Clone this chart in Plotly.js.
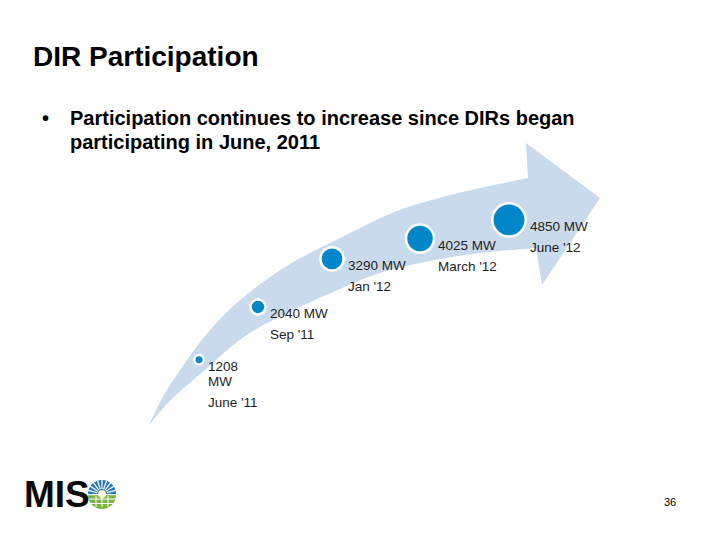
<!DOCTYPE html>
<html>
<head>
<meta charset="utf-8">
<script src="https://cdn.plot.ly/plotly-3.0.1.min.js"></script>
<style>html,body{margin:0;padding:0;background:#fff;}#chart{width:720px;height:540px;}</style>
</head>
<body>
<div id="chart"></div>
<script>
// ---- data ----
const periods = ["June '11", "Sep '11", "Jan '12", "March '12", "June '12"];
const mw = [1208, 2040, 3290, 4025, 4850];
const valueLabels = ["1208<br>MW", "2040 MW", "3290 MW", "4025 MW", "4850 MW"];
const trackPos = [199, 258, 332, 420, 509]; // position along the arrow
const titleText = "DIR Participation";
const bulletLines = ["Participation continues to increase since DIRs began", "participating in June, 2011"];
const pageNumber = "36";

// ---- styles ----
const bubbleBlue = '#0086c9';
const arrowBlue = '#c8daeb';
const textCol = '#1e1e1e';
const FONT = 'Liberation Sans, Arial, sans-serif';

const fillDiam = mw.map(v => v / 152 - 1);
const ringW = 2.5;

const decoAxes = {type: 'scatter', x: [], y: [], xaxis: 'x', yaxis: 'y', showlegend: false, hoverinfo: 'skip'};
const bubbles = {
  type: 'scatter', mode: 'markers',
  x: trackPos, y: mw, xaxis: 'x2', yaxis: 'y2',
  opacity: 1,
  marker: {size: fillDiam.map(d => d + ringW), color: bubbleBlue, opacity: 1, line: {color: '#ffffff', width: ringW}},
  hoverinfo: 'skip', showlegend: false, cliponaxis: false
};

// arrow outline (decoration, pixel frame)
const upper = [[149,425],[165,393],[185,363],[205,336],[228,311],[255,288],[290,264],[330,243],[397,211],[463,192],[528,178]];
const lower = [[536,248],[480,253],[430,261],[380,273],[340,289],[287,313],[250,333],[225,352],[205,370],[185,387],[168,403],[149,425]];
function smooth(pts) {
  let s = '';
  for (let i = 0; i < pts.length - 1; i++) {
    const p0 = pts[Math.max(i - 1, 0)], p1 = pts[i], p2 = pts[i + 1], p3 = pts[Math.min(i + 2, pts.length - 1)];
    const c1 = [p1[0] + (p2[0] - p0[0]) / 6, p1[1] + (p2[1] - p0[1]) / 6];
    const c2 = [p2[0] - (p3[0] - p1[0]) / 6, p2[1] - (p3[1] - p1[1]) / 6];
    s += ` C ${c1[0]},${c1[1]} ${c2[0]},${c2[1]} ${p2[0]},${p2[1]}`;
  }
  return s;
}
const arrowPath = `M ${upper[0][0]},${upper[0][1]}` + smooth(upper) +
  ` L 526,143 L 600,198 L 542,285 L ${lower[0][0]},${lower[0][1]}` + smooth(lower) + ' Z';

const shapes = [
  {type: 'path', xref: 'x', yref: 'y', path: arrowPath, fillcolor: arrowBlue, line: {width: 0}, layer: 'below'}
];

// MISO logo (decoration)
const cx = 102, cy = 494, r = 14, k = 0.552 * r;
shapes.push({type: 'path', xref: 'x', yref: 'y', layer: 'above',
  path: `M ${cx-r},${cy} C ${cx-r},${cy-k} ${cx-k},${cy-r} ${cx},${cy-r} C ${cx+k},${cy-r} ${cx+r},${cy-k} ${cx+r},${cy} Z`,
  fillcolor: '#2a78b5', line: {width: 0}});
shapes.push({type: 'path', xref: 'x', yref: 'y', layer: 'above',
  path: `M ${cx-r},${cy+1} C ${cx-r},${cy+1+k} ${cx-k},${cy+1+r} ${cx},${cy+1+r} C ${cx+k},${cy+1+r} ${cx+r},${cy+1+k} ${cx+r},${cy+1} Z`,
  fillcolor: '#7cb342', line: {width: 0}});
for (let a = 15; a <= 165; a += 18.75) {
  const t = a * Math.PI / 180;
  shapes.push({type: 'line', xref: 'x', yref: 'y', layer: 'above',
    x0: cx + 5 * Math.cos(t), y0: cy - 5 * Math.sin(t), x1: cx + 14 * Math.cos(t), y1: cy - 14 * Math.sin(t),
    line: {color: '#ffffff', width: 1.2}});
}
shapes.push({type: 'circle', xref: 'x', yref: 'y', layer: 'above', x0: cx-4, x1: cx+4, y0: cy-4, y1: cy+4, fillcolor: '#f3f0d0', line: {width: 0}});
shapes.push({type: 'rect', xref: 'x', yref: 'y', layer: 'above', x0: cx-15, x1: cx+15, y0: cy, y1: cy+1.2, fillcolor: '#ffffff', line: {width: 0}});
[499, 503.5].forEach(yy => shapes.push({type: 'line', xref: 'x', yref: 'y', layer: 'above',
  x0: cx-13, x1: cx+13, y0: yy, y1: yy, line: {color: '#ffffff', width: 1}}));
[96, 102, 108].forEach(xx => shapes.push({type: 'line', xref: 'x', yref: 'y', layer: 'above',
  x0: xx, x1: xx, y0: cy+2, y1: cy+13, line: {color: '#ffffff', width: 1}}));

// annotations
const annotations = [];
function pa(px, py, text, size, opts) {
  annotations.push(Object.assign({xref: 'paper', yref: 'paper', x: px / 720, y: 1 - py / 540, text: text,
    showarrow: false, xanchor: 'left', yanchor: 'middle', font: {family: FONT, size: size, color: '#000'}}, opts || {}));
}
pa(31, 56, '<b>' + titleText + '</b>', 28);
pa(40, 118, '<b>•</b>', 20);
pa(68, 118, '<b>' + bulletLines[0] + '</b>', 20);
pa(68, 142, '<b>' + bulletLines[1] + '</b>', 20);
pa(22, 494, '<b>MIS</b>', 37, {font: {family: FONT, size: 37, color: '#0a0a0a'}});
pa(670, 502, pageNumber, 11, {xanchor: 'center'});

mw.forEach((v, i) => {
  const lines = valueLabels[i].split('<br>');
  const xs = (fillDiam[i] + 2 * ringW) / 2 + 1;
  const common = {xref: 'x2', yref: 'y2', x: trackPos[i], y: Math.log10(v), showarrow: false,
    xanchor: 'left', yanchor: 'middle', xshift: xs, font: {family: FONT, size: 13.5, color: textCol}};
  lines.forEach((ln, j) => annotations.push(Object.assign({}, common, {text: ln, yshift: -(7 + 15 * j)})));
  annotations.push(Object.assign({}, common, {text: periods[i], yshift: -(7 + 15 * (lines.length - 1) + 21)}));
});

const layout = {
  width: 720, height: 540,
  margin: {l: 0, r: 0, t: 0, b: 0},
  paper_bgcolor: '#ffffff', plot_bgcolor: 'rgba(0,0,0,0)',
  showlegend: false,
  xaxis: {range: [0, 720], visible: false, fixedrange: true},
  yaxis: {range: [540, 0], visible: false, fixedrange: true},
  xaxis2: {range: [0, 720], overlaying: 'x', visible: false, fixedrange: true},
  yaxis2: {type: 'log', range: [2.3034, 4.6350], overlaying: 'y', visible: false, fixedrange: true},
  shapes: shapes,
  annotations: annotations
};

Plotly.newPlot('chart', [decoAxes, bubbles], layout, {staticPlot: true, displayModeBar: false});
</script>
</body>
</html>
